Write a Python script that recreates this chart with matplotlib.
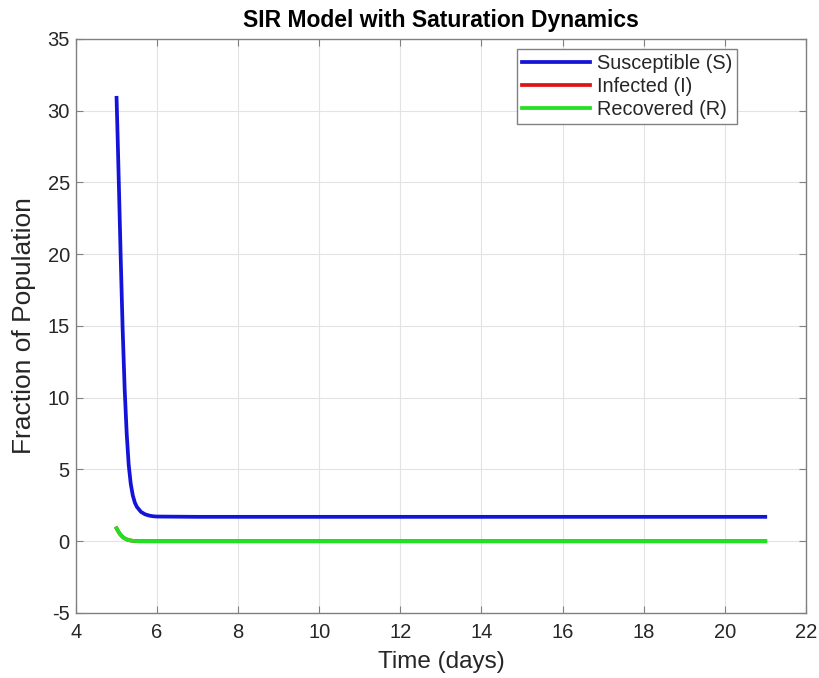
import matplotlib
matplotlib.use('Agg')
import matplotlib.pyplot as plt

plt.rcParams['font.family'] = ['Liberation Sans', 'DejaVu Sans']
plt.rcParams['axes.unicode_minus'] = False

# values
t = [5.00, 5.03, 5.06, 5.10, 5.15, 5.20, 5.25, 5.30, 5.35, 5.40, 5.45, 5.50, 5.60, 5.70, 5.80, 5.90, 6.00, 7.0, 10.0, 15.0, 21.0]
S = [30.9, 27.8, 24.5, 20.0, 14.8, 10.6, 7.5, 5.3, 4.0, 3.2, 2.7, 2.4, 2.05, 1.88, 1.79, 1.74, 1.72, 1.7, 1.7, 1.7, 1.7]
I = [0.9, 0.75, 0.6, 0.45, 0.3, 0.2, 0.13, 0.08, 0.05, 0.03, 0.02, 0.01, 0.0, 0.0, 0.0, 0.0, 0.0, 0.0, 0.0, 0.0, 0.0]
R = [0.9, 0.75, 0.6, 0.45, 0.3, 0.2, 0.13, 0.08, 0.05, 0.03, 0.02, 0.01, 0.0, 0.0, 0.0, 0.0, 0.0, 0.0, 0.0, 0.0, 0.0]

xticks = list(range(4, 23, 2))
yticks = list(range(-5, 36, 5))

fig = plt.figure(figsize=(8.2, 6.78), dpi=100)
ax = fig.add_axes([0.0927, 0.0959, 0.890, 0.8466])

ax.plot(t, S, color='#1414d8', lw=2.7, label='Susceptible (S)')
ax.plot(t, I, color='#dd1414', lw=2.7, label='Infected (I)')
ax.plot(t, R, color='#22e022', lw=2.7, label='Recovered (R)')

ax.set_xlim(4, 22)
ax.set_ylim(-5, 35)
ax.set_xticks(xticks)
ax.set_yticks(yticks)
ax.grid(True, color='#e3e3e3', lw=0.8)
ax.set_axisbelow(True)
ax.tick_params(direction='in', top=True, right=True, length=5, width=0.8,
               colors='#808080', labelcolor='#262626', labelsize=14.5)
ax.tick_params(axis='x', pad=7)
ax.tick_params(axis='y', pad=4.5)
for sp in ax.spines.values():
    sp.set_color('#808080')
    sp.set_linewidth(1.0)

ax.set_xlabel('Time (days)', fontsize=17.5, color='#262626', labelpad=7)
ax.set_ylabel('Fraction of Population', fontsize=19, color='#262626', labelpad=8)
ax.set_title('SIR Model with Saturation Dynamics', fontsize=16.5, fontweight='bold', pad=8.5)

leg = ax.legend(loc='upper right', bbox_to_anchor=(0.9055, 0.9826), fontsize=14.3,
                fancybox=False, framealpha=1, edgecolor='#808080',
                handlelength=3.4, handletextpad=0.35, borderpad=0.25, labelspacing=0.2,
                borderaxespad=0)
leg.get_frame().set_linewidth(1.0)
for txt in leg.get_texts():
    txt.set_color('#262626')

fig.savefig('out.png', dpi=100)
